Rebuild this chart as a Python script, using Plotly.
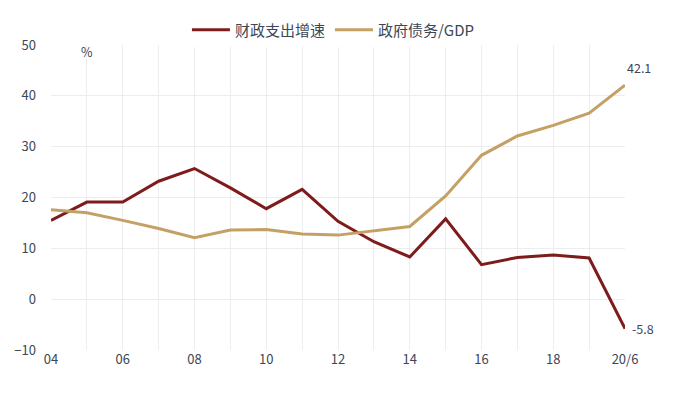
import plotly.graph_objects as go

years = list(range(2004, 2021))
tick_labels = ["04", "", "06", "", "08", "", "10", "", "12", "", "14", "", "16", "", "18", "", "20/6"]
spend_growth = [15.5, 19.1, 19.1, 23.2, 25.7, 21.9, 17.8, 21.6, 15.3, 11.3, 8.3, 15.8, 6.8, 8.2, 8.7, 8.1, -5.8]
debt_gdp = [17.6, 17.0, 15.5, 13.9, 12.1, 13.6, 13.7, 12.8, 12.6, 13.4, 14.3, 20.3, 28.3, 32.1, 34.2, 36.6, 42.1]

red = "#7E1C1C"
tan = "#C4A065"
font_family = "Noto Sans CJK SC, Noto Sans, sans-serif"
text_color = "#3C4656"

fig = go.Figure()
fig.add_trace(go.Scatter(x=years, y=spend_growth, mode="lines", name="财政支出增速",
                         line=dict(color=red, width=3)))
fig.add_trace(go.Scatter(x=years, y=debt_gdp, mode="lines", name="政府债务/GDP",
                         line=dict(color=tan, width=3)))

fig.add_annotation(x=years[-1], y=debt_gdp[-1], text=f"{debt_gdp[-1]}", showarrow=False,
                   xanchor="left", yanchor="bottom", xshift=0, yshift=6,
                   font=dict(size=12.5, color=text_color, family=font_family))
fig.add_annotation(x=years[-1], y=spend_growth[-1], text=f"{spend_growth[-1]}", showarrow=False,
                   xanchor="left", yanchor="middle", xshift=5,
                   font=dict(size=12.5, color=text_color, family=font_family))
fig.add_annotation(x=2005, y=50, text="%", showarrow=False, xanchor="center", yanchor="middle",
                   yshift=-6, font=dict(size=12.5, color=text_color, family=font_family))

fig.update_layout(
    width=671, height=387,
    margin=dict(l=43, r=54, t=37, b=45, autoexpand=False),
    paper_bgcolor="white", plot_bgcolor="white",
    font=dict(family=font_family, size=13, color=text_color),
    showlegend=True,
    legend=dict(orientation="h", x=0.485, xanchor="center", xref="container",
                y=1 - 22 / 387, yanchor="middle", yref="container", itemwidth=38,
                font=dict(size=15, color=text_color), traceorder="normal"),
    xaxis=dict(range=[2004, 2020], tickvals=years, ticktext=tick_labels, automargin=False,
               showgrid=True, gridcolor="#EDEDED", gridwidth=1, zeroline=False,
               showline=False, ticks="", tickfont=dict(size=13, color=text_color)),
    yaxis=dict(range=[-10, 50], dtick=10, showgrid=True, gridcolor="#EDEDED", gridwidth=1,
               automargin=False,
               zeroline=False, showline=False, ticks="", ticklabelstandoff=14,
               tickfont=dict(size=13, color=text_color)),
)

fig.write_html("out.html")
